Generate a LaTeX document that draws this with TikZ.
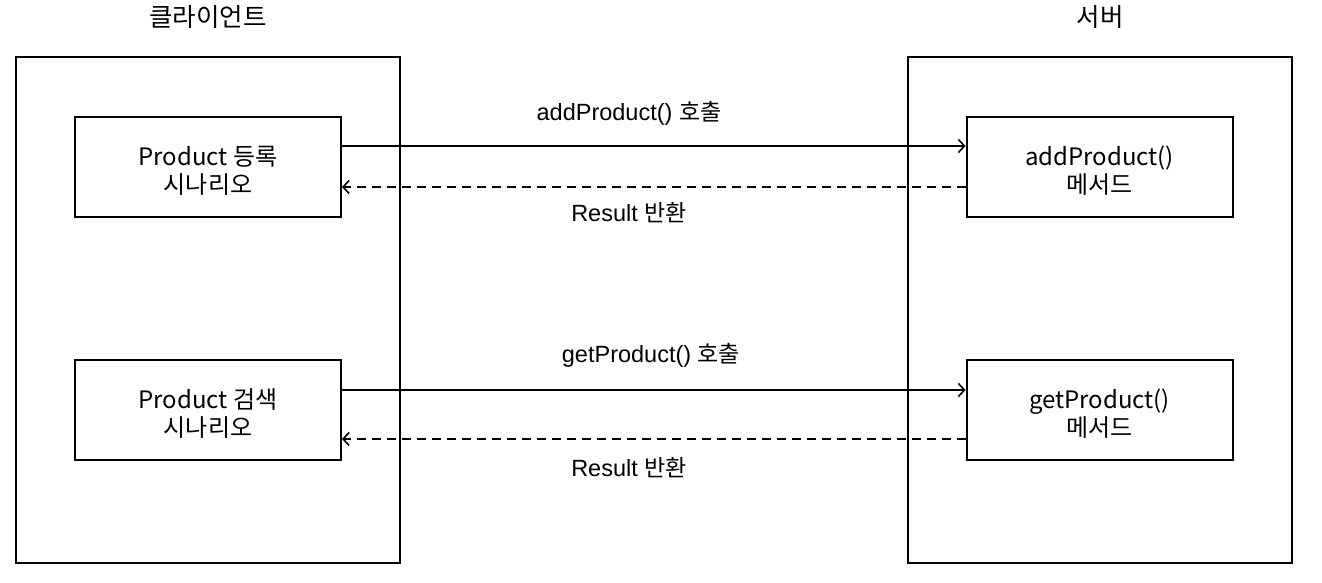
\documentclass[tikz,border=0pt]{standalone}
\usepackage{fontspec}
\setmainfont{Noto Sans CJK KR}
\newfontfamily\lib{Liberation Sans}
\newfontfamily\kr{Noto Sans CJK KR}
\usetikzlibrary{arrows.meta}
\newcommand{\topstrut}{\rule{0pt}{26pt}}
\begin{document}
\begin{tikzpicture}[x=1pt,y=-1pt,
  outerbox/.style={draw,line width=2pt,minimum width=384pt,minimum height=506pt,inner sep=0pt},
  innerbox/.style={draw,line width=2pt,minimum width=266pt,minimum height=100pt,inner sep=0pt,align=center,font=\fontsize{24}{28}\selectfont},
  title/.style={font=\fontsize{25.5}{30}\selectfont,inner sep=0pt},
  lbl/.style={font=\fontsize{23.5}{26}\lib,inner sep=0pt},
  call/.style={line width=1.6pt,-{Straight Barb[length=6pt,width=13pt,line width=1.6pt]}},
  ret/.style={call,dash pattern=on 9pt off 6pt}]
\useasboundingbox (0,0) rectangle (1322,582);
\node[title] (tc) at (208,17) {클라이언트};
\node[title] (ts) at (1100,17) {서버};
\node[outerbox] (client) at (208,310) {};
\node[outerbox] (server) at (1100,310) {};
\node[innerbox] (c1) at (208,167) {\topstrut Product 등록\\시나리오};
\node[innerbox] (c2) at (208,410) {\topstrut Product 검색\\시나리오};
\node[innerbox] (s1) at (1099.5,167) {\topstrut addProduct()\\메서드};
\node[innerbox] (s2) at (1099.5,410) {\topstrut getProduct()\\메서드};
\draw[call] ([yshift=21pt]c1.east) -- ([yshift=21pt]s1.west);
\draw[ret] ([yshift=-20pt]s1.west) -- ([yshift=-20pt]c1.east);
\draw[call] ([yshift=20pt]c2.east) -- ([yshift=20pt]s2.west);
\draw[ret] ([yshift=-29pt]s2.west) -- ([yshift=-29pt]c2.east);
\node[lbl] (l1) at (629,113) {addProduct() {\kr\fontsize{23}{26}\selectfont 호출}};
\node[lbl] (l2) at (629,213) {Result {\kr\fontsize{23}{26}\selectfont 반환}};
\node[lbl] (l3) at (651,355) {getProduct() {\kr\fontsize{23}{26}\selectfont 호출}};
\node[lbl] (l4) at (629,468) {Result {\kr\fontsize{23}{26}\selectfont 반환}};
\end{tikzpicture}
\end{document}
